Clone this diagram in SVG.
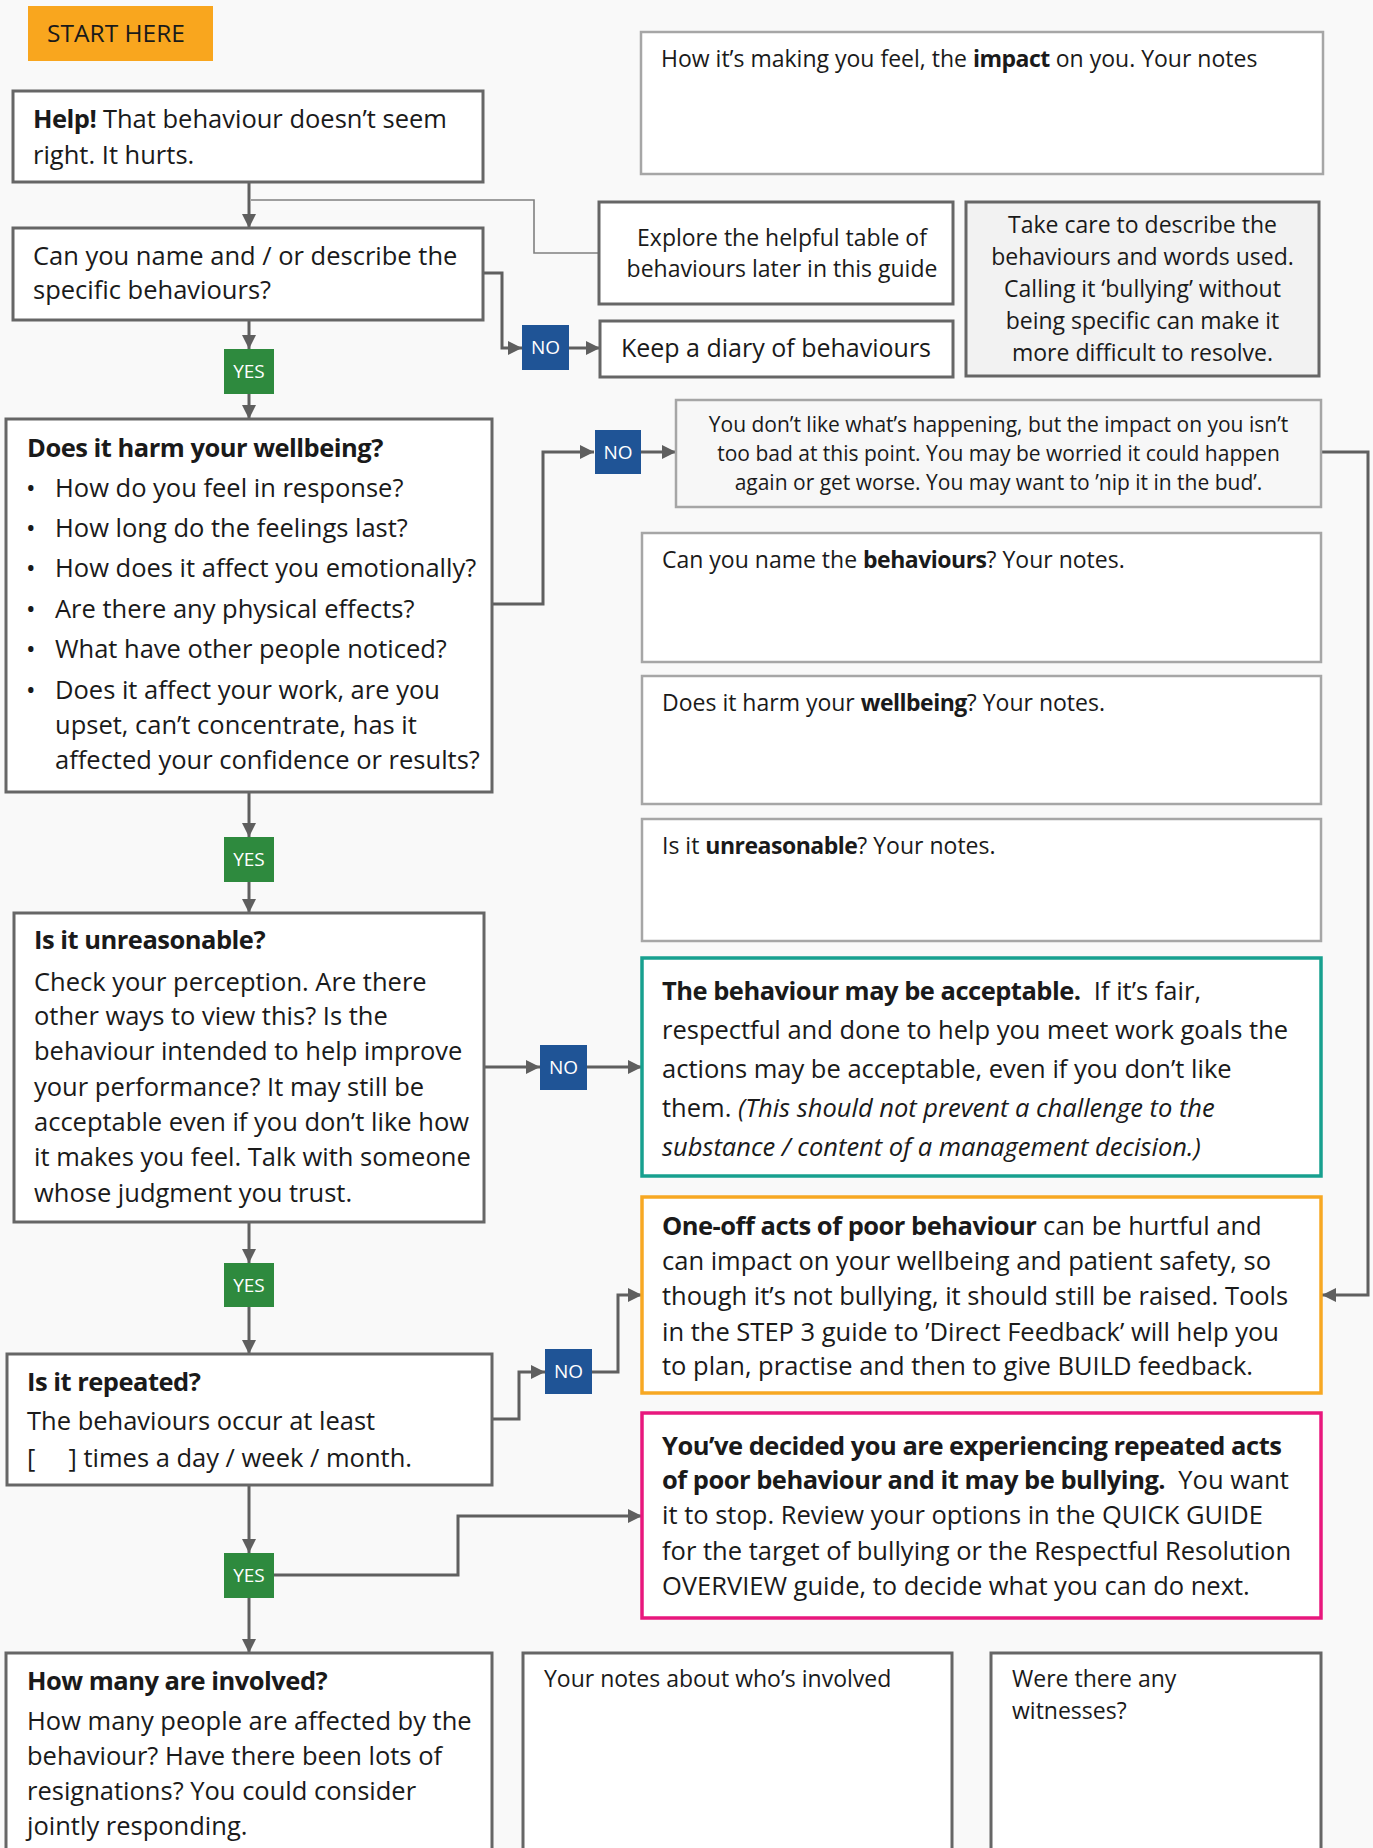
<svg xmlns="http://www.w3.org/2000/svg" width="1373" height="1848" viewBox="0 0 1373 1848">
<defs>
<style>
text{font-family:"Open Sans","Liberation Sans",sans-serif;fill:#1a1a1a}
.t{font-size:25.5px}
.s{font-size:23px}
.xs{font-size:21px}
.b{font-weight:bold;letter-spacing:-0.5px}
.i{font-style:italic}
.c{text-anchor:middle}
.box{fill:#fff;stroke:#666;stroke-width:3}
.note{fill:#fff;stroke:#a6a6a6;stroke-width:2.5}
.lbl{font-size:19px;fill:#fff;text-anchor:middle}
.con{fill:none;stroke:#5f5f5f;stroke-width:3}
.arr{marker-end:url(#ah)}
</style>
<marker id="ah" viewBox="0 0 14 14" refX="14" refY="7" markerWidth="14" markerHeight="14" markerUnits="userSpaceOnUse" orient="auto">
<path d="M0,0 L14,7 L0,14 Z" fill="#5f5f5f"/>
</marker>
</defs>
<rect width="1373" height="1848" fill="#f9f9f9"/>

<g id="connectors">
<path class="con arr" d="M249,182 V228"/>
<path d="M251,200 H534 V253 H599" fill="none" stroke="#808080" stroke-width="1.6"/>
<path class="con arr" d="M484,273 H502 V348 H522"/>
<path class="con arr" d="M569,348 H600"/>
<path class="con arr" d="M249,320 V349"/>
<path class="con arr" d="M249,394 V419"/>
<path class="con arr" d="M492,604 H543 V452 H594"/>
<path class="con arr" d="M641,452 H676"/>
<path class="con arr" d="M1321,452 H1368 V1295 H1322"/>
<path class="con arr" d="M249,792 V837"/>
<path class="con arr" d="M249,882 V913"/>
<path class="con arr" d="M484,1067 H540"/>
<path class="con arr" d="M587,1067 H642"/>
<path class="con arr" d="M249,1222 V1263"/>
<path class="con arr" d="M249,1307 V1354"/>
<path class="con arr" d="M492,1419 H519 V1372 H545"/>
<path class="con arr" d="M592,1372 H618 V1295 H642"/>
<path class="con arr" d="M249,1485 V1553"/>
<path class="con arr" d="M274,1575 H458 V1516 H642"/>
<path class="con arr" d="M249,1598 V1653"/>
</g>

<g id="start">
<rect x="28" y="6" width="185" height="55" fill="#f9a61e"/>
<text x="116" y="42" class="c" font-size="24.5">START HERE</text>
</g>

<g id="impact-notes">
<rect class="note" x="641" y="32" width="682" height="142"/>
<text x="661" y="67" class="s">How it’s making you feel, the <tspan class="b">impact</tspan> on you. Your notes</text>
</g>

<g id="help">
<rect class="box" x="13" y="91" width="470" height="91"/>
<text x="33" y="128" class="t"><tspan class="b">Help!</tspan> That behaviour doesn’t seem</text>
<text x="33" y="164" class="t">right. It hurts.</text>
</g>

<g id="explore">
<rect class="box" x="599" y="202" width="354" height="102"/>
<text x="782" y="246" class="s c">Explore the helpful table of</text>
<text x="782" y="277" class="s c">behaviours later in this guide</text>
</g>

<g id="takecare">
<rect x="966" y="202" width="353" height="174" fill="#f2f2f2" stroke="#666" stroke-width="3"/>
<text x="1142.5" y="233" class="s c">Take care to describe the</text>
<text x="1142.5" y="265" class="s c">behaviours and words used.</text>
<text x="1142.5" y="297" class="s c">Calling it ‘bullying’ without</text>
<text x="1142.5" y="329" class="s c">being specific can make it</text>
<text x="1142.5" y="361" class="s c">more difficult to resolve.</text>
</g>

<g id="canyou">
<rect class="box" x="13" y="228" width="470" height="92"/>
<text x="33" y="265" class="t">Can you name and / or describe the</text>
<text x="33" y="299" class="t">specific behaviours?</text>
</g>

<g id="no1">
<rect x="522" y="325" width="47" height="45" fill="#1f5496"/>
<text x="545.5" y="354" class="lbl">NO</text>
</g>

<g id="diary">
<rect class="box" x="600" y="321" width="353" height="56"/>
<text x="776" y="357" class="c" font-size="25">Keep a diary of behaviours</text>
</g>

<g id="yes1">
<rect x="224" y="349" width="50" height="45" fill="#2e8a3e"/>
<text x="249" y="378" class="lbl">YES</text>
</g>

<g id="harm">
<rect class="box" x="6" y="419" width="486" height="373"/>
<text x="27" y="457" class="t b">Does it harm your wellbeing?</text>
<text x="26" y="497" class="t">•</text><text x="55" y="497" class="t">How do you feel in response?</text>
<text x="26" y="537" class="t">•</text><text x="55" y="537" class="t">How long do the feelings last?</text>
<text x="26" y="577" class="t">•</text><text x="55" y="577" class="t">How does it affect you emotionally?</text>
<text x="26" y="618" class="t">•</text><text x="55" y="618" class="t">Are there any physical effects?</text>
<text x="26" y="658" class="t">•</text><text x="55" y="658" class="t">What have other people noticed?</text>
<text x="26" y="699" class="t">•</text><text x="55" y="699" class="t">Does it affect your work, are you</text>
<text x="55" y="734" class="t">upset, can’t concentrate, has it</text>
<text x="55" y="769" class="t">affected your confidence or results?</text>
</g>

<g id="no2">
<rect x="595" y="430" width="46" height="44" fill="#1f5496"/>
<text x="618" y="459" class="lbl">NO</text>
</g>

<g id="notworse">
<rect x="676" y="400" width="645" height="107" fill="#f7f7f7" stroke="#a6a6a6" stroke-width="2.5"/>
<text x="998.5" y="432" class="xs c">You don’t like what’s happening, but the impact on you isn’t</text>
<text x="998.5" y="461" class="xs c">too bad at this point. You may be worried it could happen</text>
<text x="998.5" y="490" class="xs c">again or get worse. You may want to ’nip it in the bud’.</text>
</g>

<g id="notes-behaviours">
<rect class="note" x="642" y="533" width="679" height="129"/>
<text x="662" y="568" class="s">Can you name the <tspan class="b">behaviours</tspan>? Your notes.</text>
</g>

<g id="notes-wellbeing">
<rect class="note" x="642" y="676" width="679" height="128"/>
<text x="662" y="711" class="s">Does it harm your <tspan class="b">wellbeing</tspan>? Your notes.</text>
</g>

<g id="notes-unreasonable">
<rect class="note" x="642" y="819" width="679" height="122"/>
<text x="662" y="854" class="s">Is it <tspan class="b">unreasonable</tspan>? Your notes.</text>
</g>

<g id="yes2">
<rect x="224" y="837" width="50" height="45" fill="#2e8a3e"/>
<text x="249" y="866" class="lbl">YES</text>
</g>

<g id="unreasonable">
<rect class="box" x="14" y="913" width="470" height="309"/>
<text x="34" y="949" class="t b">Is it unreasonable?</text>
<text x="34" y="991" class="t">Check your perception. Are there</text>
<text x="34" y="1025" class="t">other ways to view this? Is the</text>
<text x="34" y="1060" class="t">behaviour intended to help improve</text>
<text x="34" y="1096" class="t">your performance? It may still be</text>
<text x="34" y="1131" class="t">acceptable even if you don’t like how</text>
<text x="34" y="1166" class="t">it makes you feel. Talk with someone</text>
<text x="34" y="1202" class="t">whose judgment you trust.</text>
</g>

<g id="no3">
<rect x="540" y="1045" width="47" height="45" fill="#1f5496"/>
<text x="563.5" y="1074" class="lbl">NO</text>
</g>

<g id="acceptable">
<rect x="642" y="958" width="679" height="218" fill="#fff" stroke="#17a08f" stroke-width="3.5"/>
<text x="662" y="1000" class="t" xml:space="preserve"><tspan class="b">The behaviour may be acceptable.</tspan>  If it’s fair,</text>
<text x="662" y="1039" class="t">respectful and done to help you meet work goals the</text>
<text x="662" y="1078" class="t">actions may be acceptable, even if you don’t like</text>
<text x="662" y="1117" class="t">them. <tspan class="i">(This should not prevent a challenge to the</tspan></text>
<text x="662" y="1156" class="t i">substance / content of a management decision.)</text>
</g>

<g id="yes3">
<rect x="224" y="1263" width="50" height="44" fill="#2e8a3e"/>
<text x="249" y="1292" class="lbl">YES</text>
</g>

<g id="oneoff">
<rect x="642" y="1197" width="679" height="196" fill="#fff" stroke="#f7a823" stroke-width="3.5"/>
<text x="662" y="1235" class="t"><tspan class="b">One-off acts of poor behaviour</tspan> can be hurtful and</text>
<text x="662" y="1270" class="t">can impact on your wellbeing and patient safety, so</text>
<text x="662" y="1305" class="t">though it’s not bullying, it should still be raised. Tools</text>
<text x="662" y="1341" class="t">in the STEP 3 guide to ’Direct Feedback’ will help you</text>
<text x="662" y="1375" class="t">to plan, practise and then to give BUILD feedback.</text>
</g>

<g id="repeated">
<rect class="box" x="7" y="1354" width="485" height="131"/>
<text x="27" y="1391" class="t b">Is it repeated?</text>
<text x="27" y="1430" class="t">The behaviours occur at least</text>
<text x="27" y="1467" class="t" xml:space="preserve">[     ] times a day / week / month.</text>
</g>

<g id="no4">
<rect x="545" y="1349" width="47" height="45" fill="#1f5496"/>
<text x="568.5" y="1378" class="lbl">NO</text>
</g>

<g id="bullying">
<rect x="642" y="1413" width="679" height="205" fill="#fff" stroke="#e8177d" stroke-width="3.5"/>
<text x="662" y="1455" class="t b">You’ve decided you are experiencing repeated acts</text>
<text x="662" y="1489" class="t" xml:space="preserve"><tspan class="b">of poor behaviour and it may be bullying.</tspan>  You want</text>
<text x="662" y="1524" class="t">it to stop. Review your options in the QUICK GUIDE</text>
<text x="662" y="1560" class="t">for the target of bullying or the Respectful Resolution</text>
<text x="662" y="1595" class="t">OVERVIEW guide, to decide what you can do next.</text>
</g>

<g id="yes4">
<rect x="224" y="1553" width="50" height="45" fill="#2e8a3e"/>
<text x="249" y="1582" class="lbl">YES</text>
</g>

<g id="howmany">
<rect class="box" x="6" y="1653" width="486" height="210"/>
<text x="27" y="1690" class="t b">How many are involved?</text>
<text x="27" y="1730" class="t">How many people are affected by the</text>
<text x="27" y="1765" class="t">behaviour? Have there been lots of</text>
<text x="27" y="1800" class="t">resignations? You could consider</text>
<text x="27" y="1835" class="t">jointly responding.</text>
</g>

<g id="notes-involved">
<rect class="box" x="523" y="1653" width="429" height="210"/>
<text x="544" y="1687" class="s">Your notes about who’s involved</text>
</g>

<g id="witnesses">
<rect class="box" x="991" y="1653" width="330" height="210"/>
<text x="1012" y="1687" class="s">Were there any</text>
<text x="1012" y="1719" class="s">witnesses?</text>
</g>
</svg>
